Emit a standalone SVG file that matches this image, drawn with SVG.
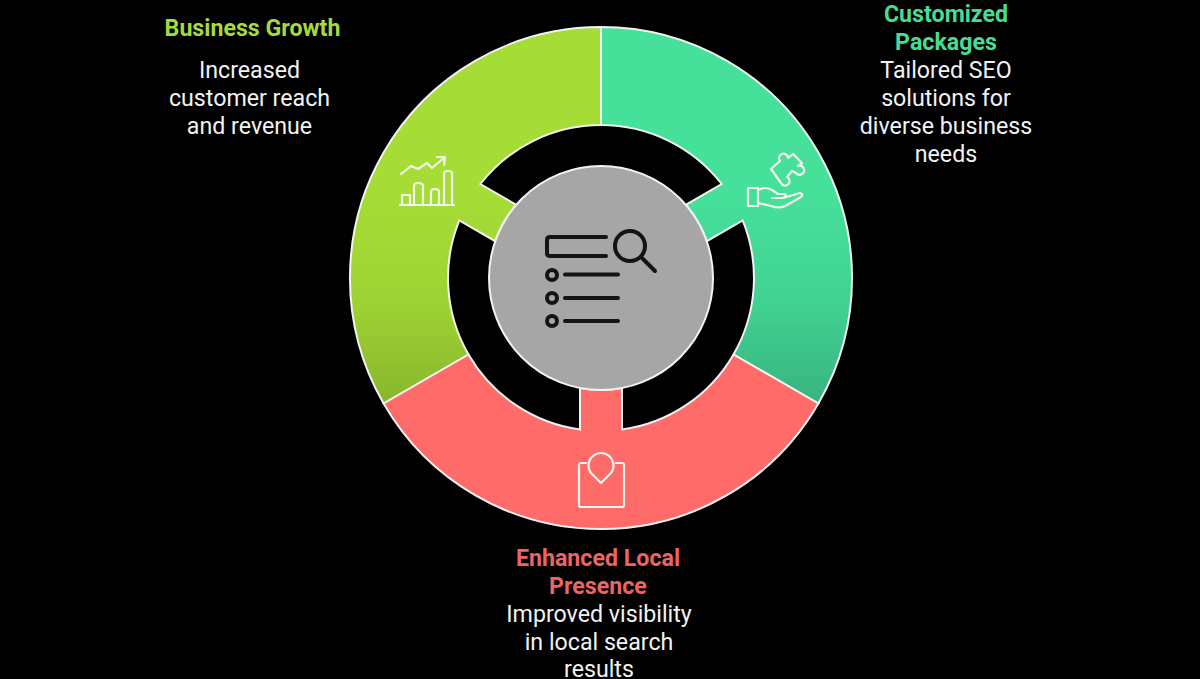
<svg xmlns="http://www.w3.org/2000/svg" width="1200" height="679" viewBox="0 0 1200 679">
<style>
text{font-family:Roboto,"Liberation Sans",sans-serif;text-anchor:middle;font-size:23.2px;fill:#f2f2f2}
.h{font-weight:700}
.seg{stroke:#f2f2f2;stroke-width:2;stroke-linejoin:miter}
.wi{fill:none;stroke:#f4f6ee;stroke-width:2.2;stroke-linecap:round;stroke-linejoin:round}
.bi{fill:none;stroke:#141414;stroke-width:4;stroke-linecap:round;stroke-linejoin:round}
</style>
<defs>
<linearGradient id="lime" gradientUnits="userSpaceOnUse" x1="0" y1="200" x2="0" y2="410"><stop offset="0" stop-color="#A6DC36"/><stop offset="0.5" stop-color="#9ED234"/><stop offset="1" stop-color="#88B42C"/></linearGradient>
<linearGradient id="teal" gradientUnits="userSpaceOnUse" x1="0" y1="200" x2="0" y2="410"><stop offset="0" stop-color="#45E09A"/><stop offset="0.5" stop-color="#41D191"/><stop offset="1" stop-color="#38B27E"/></linearGradient>
</defs>
<rect width="1200" height="679" fill="#000"/>
<g id="business-growth">
<path class="seg" fill="url(#lime)" d="M601 27A251 251 0 0 0 383.6 403.5L468.5 354.5A153 153 0 0 1 459.3 220.4L495.2 241.2A112 112 0 0 1 516.2 204.8L480.3 184A153 153 0 0 1 601 125Z"/>
<g class="wi">
<path d="M400 205H454M402 205V195H410V205M414 205V186Q414 183 418 183Q423 183 423 186V205M431 205V192Q431 189 435 189Q439 189 439 192V205M444 205V173Q444 171 448 171Q452 171 452 173V205"/>
<path d="M401 174L411 166L418 169L427 163L432 168L444 158M437 157L445 157L444 165"/>
</g>
<text class="h" x="252.500" y="35.800" style="fill:#A6D93C">Business Growth</text>
<text x="249.500" y="77.800">Increased</text>
<text x="249.500" y="105.800">customer reach</text>
<text x="249.500" y="133.800">and revenue</text>
</g>
<g id="customized-packages">
<path class="seg" fill="url(#teal)" d="M601 27A251 251 0 0 1 818.400 403.500L733.500 354.500A153 153 0 0 0 742.700 220.400L706.800 241.200A112 112 0 0 0 685.800 204.800L721.700 184A153 153 0 0 0 601 125Z"/>
<g class="wi">
<path d="M758 188H748V206H758ZM758 190Q765 186 772 190L778 194H785Q787 196 783 198H772M783 198L800 193Q804 194 801 197L785 206Q779 209 771 206L758 203"/>
<path d="M771 169L780 161A4.500 4.500 0 1 1 788 158L793 154L802 163L798 166A4.500 4.500 0 1 1 796 173L792 171L787 177A4.500 4.500 0 1 1 781 183Z"/>
</g>
<text class="h" x="946" y="21.800" style="fill:#47DC96">Customized</text>
<text class="h" x="946" y="49.800" style="fill:#47DC96">Packages</text>
<text x="946" y="77.800">Tailored SEO</text>
<text x="946" y="105.800">solutions for</text>
<text x="946" y="133.800">diverse business</text>
<text x="946" y="161.800">needs</text>
</g>
<g id="enhanced-local-presence">
<path class="seg" fill="#FF6B68" d="M383.600 403.500A251 251 0 0 0 818.400 403.500L733.500 354.500A153 153 0 0 1 622 429.600L622 388A112 112 0 0 1 580 388L580 429.600A153 153 0 0 1 468.500 354.500Z"/>
<g class="wi">
<path d="M586 463H581Q579 463 579 465V505Q579 507 581 507H622Q624 507 624 505V465Q624 463 622 463H616"/>
<path d="M601 483L591 473A12.500 12.500 0 1 1 611 473Z"/>
</g>
<text class="h" x="598" y="565.800" style="fill:#EC6463">Enhanced Local</text>
<text class="h" x="598" y="593.800" style="fill:#EC6463">Presence</text>
<text x="599" y="621.800">Improved visibility</text>
<text x="599" y="649.800">in local search</text>
<text x="599" y="676.800">results</text>
</g>
<g id="center">
<circle cx="601" cy="278" r="112" fill="#A6A6A6" stroke="#f2f2f2" stroke-width="2"/>
<g class="bi">
<path d="M606 237H550Q547 237 547 240V253Q547 256 550 256H606"/>
<circle cx="630" cy="246" r="15"/>
<path d="M642 258L655 271"/>
<circle cx="552" cy="275" r="5"/>
<circle cx="552" cy="298" r="5"/>
<circle cx="552" cy="321" r="5"/>
<path d="M565 274.500H618M565 298H618M565 321H618"/>
</g>
</g>
</svg>
